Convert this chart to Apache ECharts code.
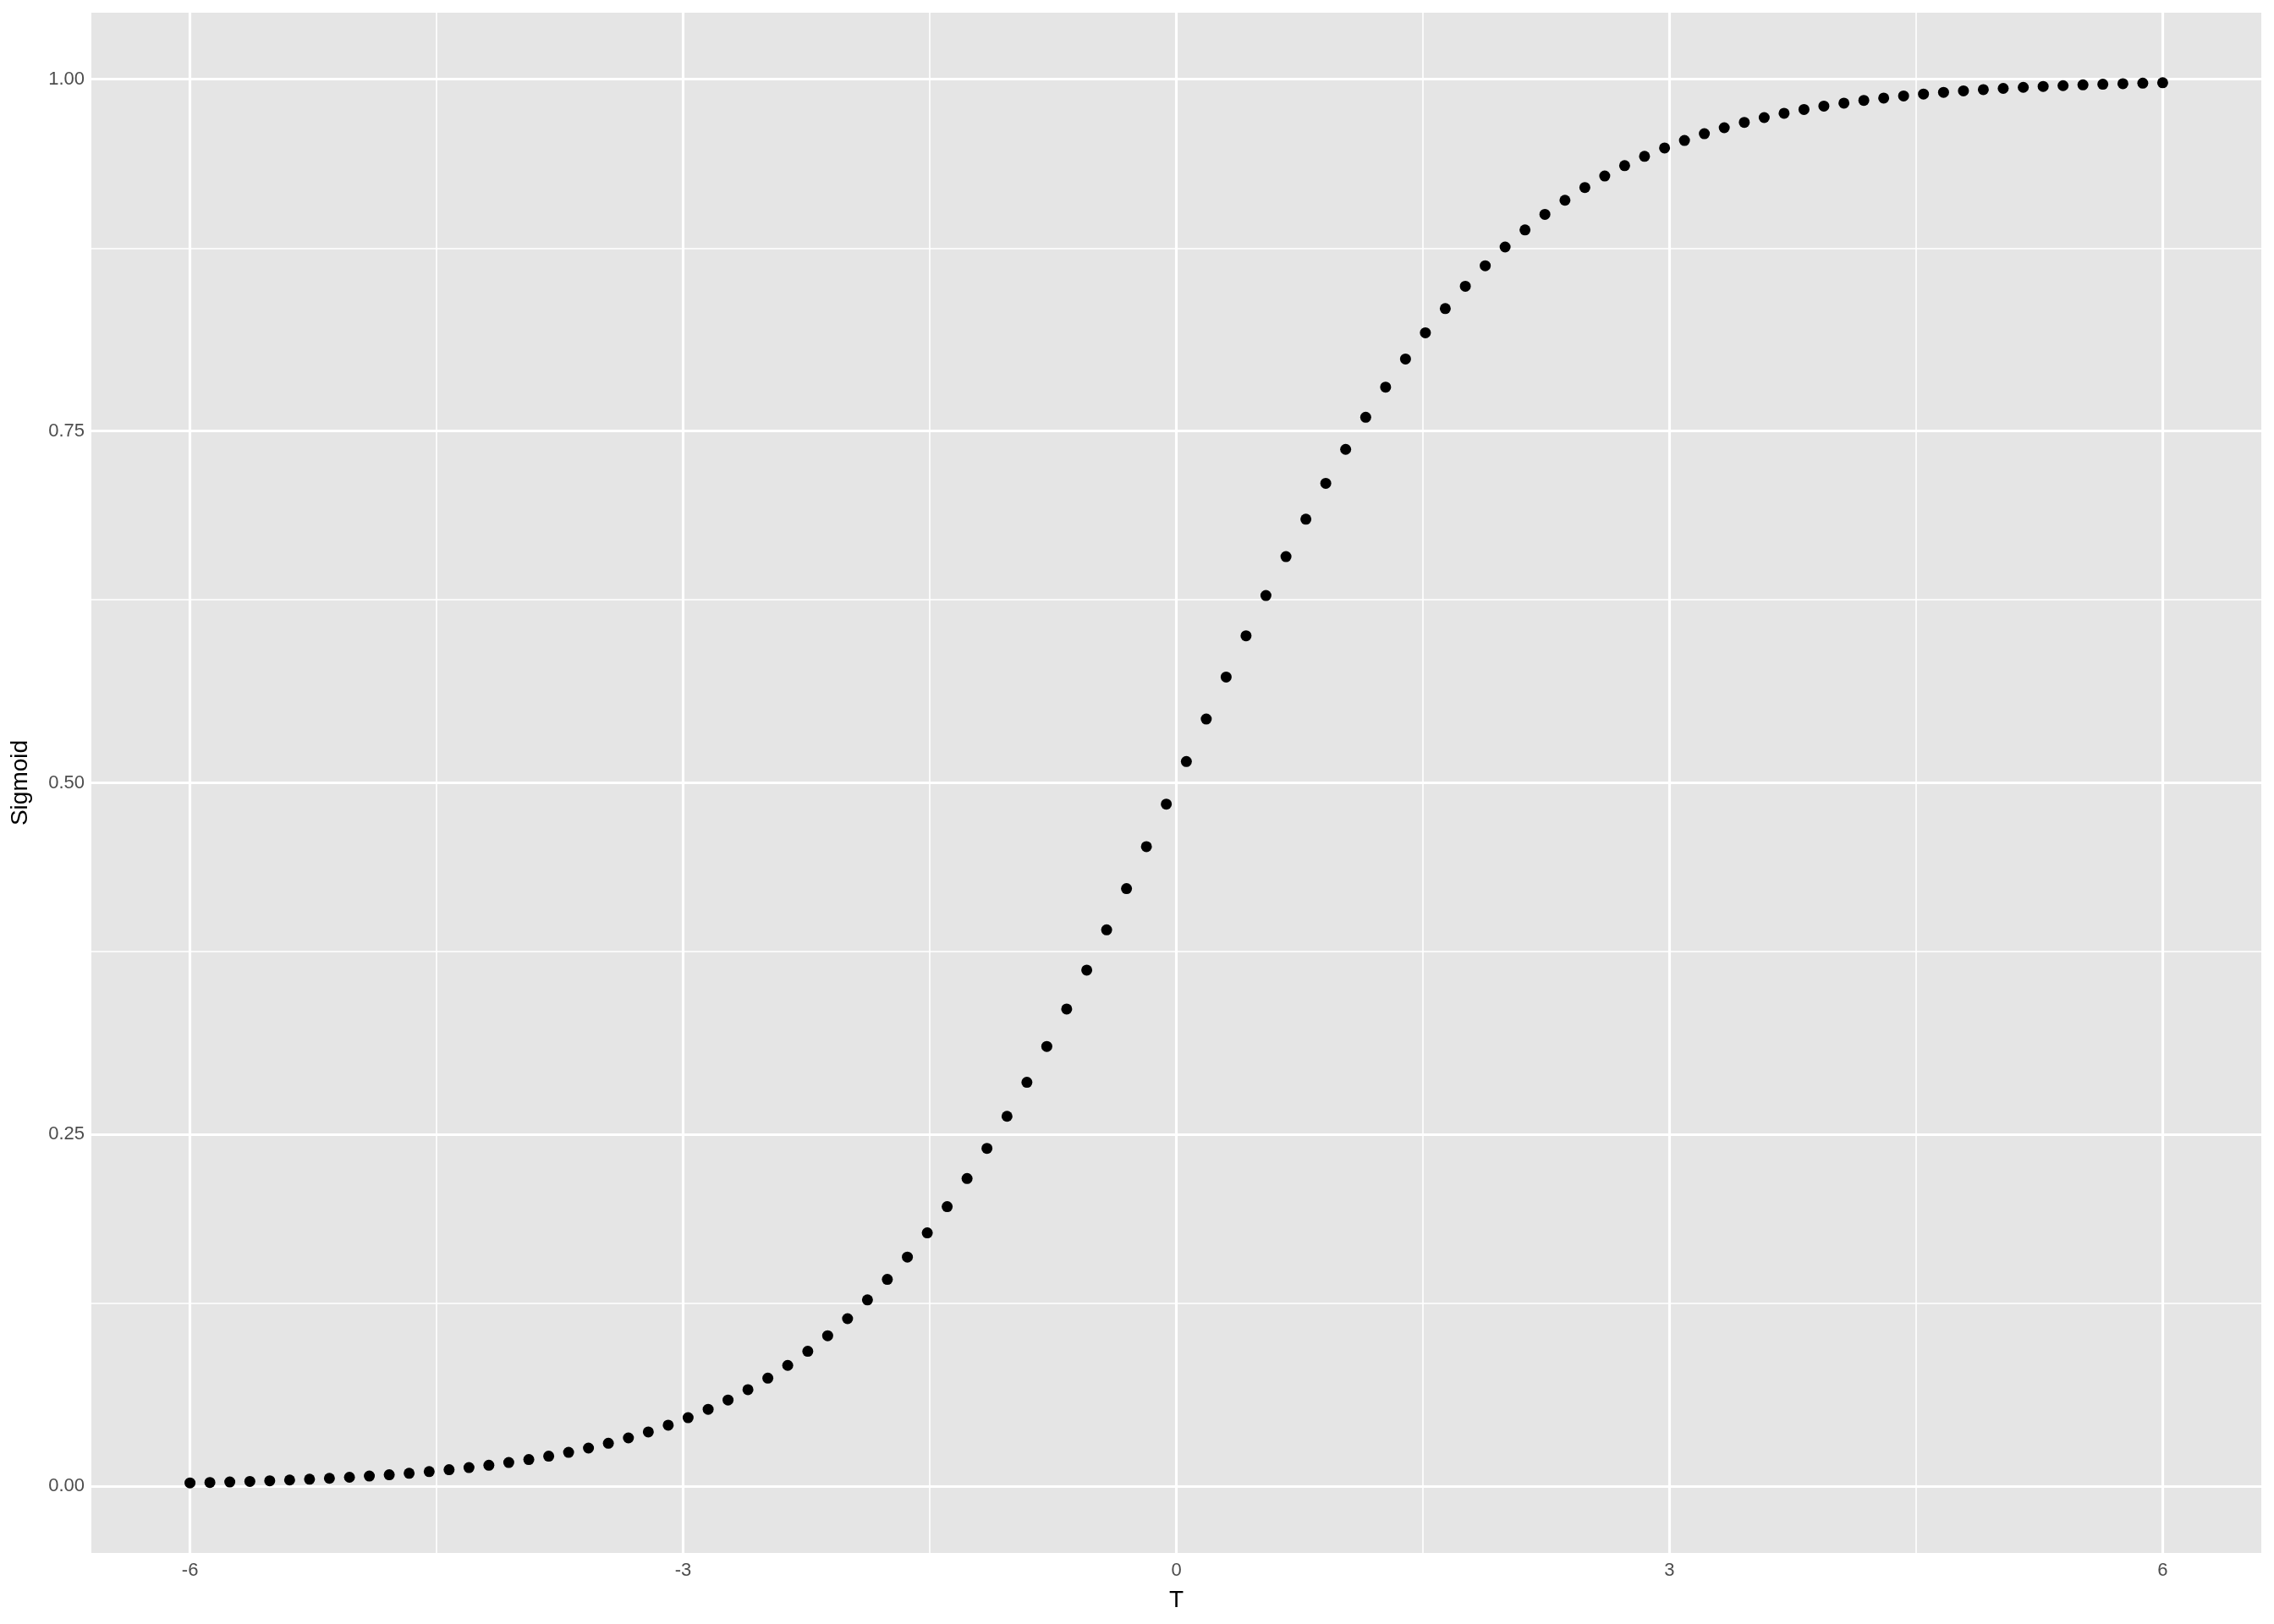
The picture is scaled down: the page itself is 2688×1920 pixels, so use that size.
<!DOCTYPE html>
<html>
<head>
<meta charset="utf-8">
<script src="https://cdn.jsdelivr.net/npm/echarts@6/dist/echarts.min.js"></script>
<style>html,body{margin:0;padding:0;background:#fff;}#c{width:2688px;height:1920px;}</style>
</head>
<body>
<div id="c"></div>
<script>
// T values: seq(-6, 6, length.out = 100)
const tValues = [
-6.000,-5.879,-5.758,-5.636,-5.515,-5.394,-5.273,-5.152,-5.030,-4.909,
-4.788,-4.667,-4.545,-4.424,-4.303,-4.182,-4.061,-3.939,-3.818,-3.697,
-3.576,-3.455,-3.333,-3.212,-3.091,-2.970,-2.848,-2.727,-2.606,-2.485,
-2.364,-2.242,-2.121,-2.000,-1.879,-1.758,-1.636,-1.515,-1.394,-1.273,
-1.152,-1.030,-0.909,-0.788,-0.667,-0.545,-0.424,-0.303,-0.182,-0.061,
0.061,0.182,0.303,0.424,0.545,0.667,0.788,0.909,1.030,1.152,
1.273,1.394,1.515,1.636,1.758,1.879,2.000,2.121,2.242,2.364,
2.485,2.606,2.727,2.848,2.970,3.091,3.212,3.333,3.455,3.576,
3.697,3.818,3.939,4.061,4.182,4.303,4.424,4.545,4.667,4.788,
4.909,5.030,5.152,5.273,5.394,5.515,5.636,5.758,5.879,6.000
];
const sigmoidValues = [
0.00247,0.00279,0.00315,0.00356,0.00401,0.00453,0.00511,0.00576,0.00650,0.00733,
0.00826,0.00932,0.01051,0.01185,0.01335,0.01504,0.01695,0.01909,0.02150,0.02420,
0.02724,0.03063,0.03444,0.03872,0.04349,0.04882,0.05477,0.06139,0.06876,0.07693,
0.08599,0.09601,0.10705,0.11920,0.13254,0.14712,0.16297,0.18019,0.19879,0.21880,
0.24021,0.26302,0.28719,0.31264,0.33924,0.36691,0.39550,0.42483,0.45467,0.48485,
0.51515,0.54533,0.57517,0.60450,0.63309,0.66076,0.68736,0.71281,0.73698,0.75979,
0.78120,0.80121,0.81981,0.83703,0.85288,0.86746,0.88080,0.89295,0.90399,0.91401,
0.92307,0.93124,0.93861,0.94523,0.95118,0.95651,0.96128,0.96556,0.96937,0.97276,
0.97580,0.97850,0.98091,0.98305,0.98496,0.98665,0.98815,0.98949,0.99068,0.99174,
0.99267,0.99350,0.99424,0.99489,0.99547,0.99599,0.99644,0.99685,0.99721,0.99753
];
const xMajorTicks = [-6, -3, 0, 3, 6];
const xMinorTicks = [-4.5, -1.5, 1.5, 4.5];
const yMajorTicks = [0, 0.25, 0.5, 0.75, 1.0];
const yMinorTicks = [0.125, 0.375, 0.625, 0.875];
const yTickLabels = ['0.00', '0.25', '0.50', '0.75', '1.00'];
const xTickLabels = ['-6', '-3', '0', '3', '6'];

const FONT = '"Liberation Sans", Arial, Helvetica, sans-serif';
const chart = echarts.init(document.getElementById('c'), null, {renderer: 'canvas'});

const gridLines = [];
xMinorTicks.forEach(v => gridLines.push({xAxis: v, lineStyle: {width: 1.6}}));
yMinorTicks.forEach(v => gridLines.push({yAxis: v, lineStyle: {width: 1.6}}));
xMajorTicks.forEach(v => gridLines.push({xAxis: v, lineStyle: {width: 3.2}}));
yMajorTicks.forEach(v => gridLines.push({yAxis: v, lineStyle: {width: 3.2}}));

chart.setOption({
  animation: false,
  backgroundColor: '#ffffff',
  grid: {
    left: 108, right: 15, top: 15, bottom: 84,
    containLabel: false, outerBoundsMode: 'none',
    show: true, backgroundColor: '#E5E5E5', borderWidth: 0
  },
  xAxis: {
    type: 'value', min: -6.6, max: 6.6,
    name: 'T', nameLocation: 'middle', nameGap: 42,
    nameTextStyle: {color: '#000', fontSize: 28, fontFamily: FONT},
    axisLine: {show: false},
    splitLine: {show: false},
    axisTick: {show: true, customValues: xMajorTicks, length: 8, lineStyle: {color: '#333333', width: 2.5}},
    axisLabel: {
      customValues: xMajorTicks, color: '#4D4D4D', fontSize: 22, fontFamily: FONT, margin: 10,
      formatter: v => xTickLabels[xMajorTicks.indexOf(v)] ?? String(v)
    }
  },
  yAxis: {
    type: 'value', min: -0.0473, max: 1.0473,
    name: 'Sigmoid', nameLocation: 'middle', nameGap: 70, nameRotate: 90,
    nameTextStyle: {color: '#000', fontSize: 28, fontFamily: FONT},
    axisLine: {show: false},
    splitLine: {show: false},
    axisTick: {show: true, customValues: yMajorTicks, length: 8, lineStyle: {color: '#333333', width: 2.5}},
    axisLabel: {
      customValues: yMajorTicks, color: '#4D4D4D', fontSize: 22, fontFamily: FONT, margin: 8,
      formatter: v => yTickLabels[yMajorTicks.indexOf(v)] ?? String(v)
    }
  },
  series: [
    {
      type: 'line', data: [], z: 1, silent: true,
      markLine: {
        silent: true, symbol: ['none', 'none'], label: {show: false},
        lineStyle: {color: '#ffffff', type: 'solid'},
        emphasis: {disabled: true},
        animation: false,
        data: gridLines
      }
    },
    {
      type: 'scatter', z: 5, symbol: 'circle', symbolSize: 13,
      itemStyle: {color: '#000000', opacity: 1},
      data: tValues.map((t, i) => [t, sigmoidValues[i]])
    }
  ]
});
</script>
</body>
</html>
